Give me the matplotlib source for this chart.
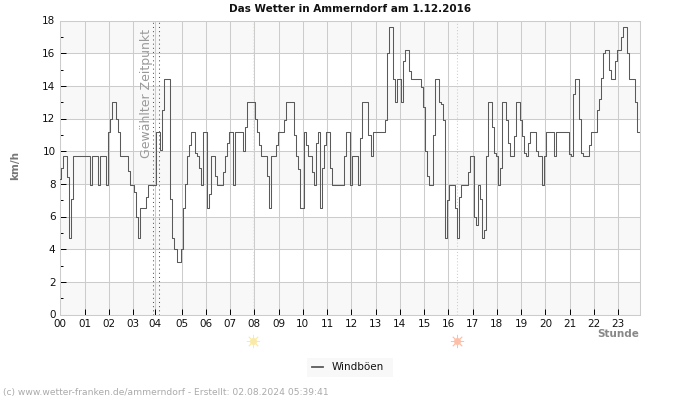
import numpy as np
import matplotlib
matplotlib.use("Agg")
import matplotlib.pyplot as plt
from matplotlib.patches import Rectangle

# gust values per hour, 5 minute samples (km/h)
h00 = [8.3, 9.0, 9.7, 9.7, 8.4, 4.7, 7.1, 9.7, 9.7, 9.7, 9.7, 9.7]
h01 = [9.7, 9.7, 9.7, 7.9, 9.7, 9.7, 9.7, 7.9, 9.7, 9.7, 9.7, 7.9]
h02 = [11.2, 12.0, 13.0, 13.0, 12.0, 11.2, 9.7, 9.7, 9.7, 9.7, 8.8, 7.9]
h03 = [7.9, 7.5, 6.0, 4.7, 6.5, 6.5, 6.5, 7.2, 7.9, 7.9, 7.9, 7.9]
h04 = [11.2, 11.2, 10.1, 12.5, 14.4, 14.4, 14.4, 7.1, 4.7, 4.0, 3.2, 3.2]
h05 = [4.0, 6.5, 8.0, 9.7, 10.4, 11.2, 11.2, 9.9, 9.7, 9.0, 7.9, 11.2]
h06 = [11.2, 6.5, 7.4, 9.7, 9.7, 8.5, 7.9, 7.9, 7.9, 8.7, 9.7, 10.5]
h07 = [11.2, 11.2, 7.9, 11.2, 11.2, 11.2, 11.2, 10.0, 11.5, 13.0, 13.0, 13.0]
h08 = [13.0, 12.0, 11.2, 10.4, 9.7, 9.7, 9.7, 8.5, 6.5, 9.7, 9.7, 10.4]
h09 = [11.2, 11.2, 11.2, 11.9, 13.0, 13.0, 13.0, 13.0, 11.0, 9.7, 8.9, 6.5]
h10 = [6.5, 11.2, 10.4, 9.7, 9.7, 8.7, 7.9, 10.5, 11.2, 6.5, 9.0, 10.4]
h11 = [11.2, 11.2, 9.0, 7.9, 7.9, 7.9, 7.9, 7.9, 7.9, 9.7, 11.2, 11.2]
h12 = [7.9, 9.7, 9.7, 9.7, 7.9, 10.8, 13.0, 13.0, 13.0, 11.0, 9.7, 11.2]
h13 = [11.2, 11.2, 11.2, 11.2, 11.2, 11.9, 16.0, 17.6, 17.6, 14.4, 13.0, 14.4]
h14 = [14.4, 13.0, 15.5, 16.2, 16.2, 14.9, 14.4, 14.4, 14.4, 14.4, 14.4, 13.9]
h15 = [12.7, 10.0, 8.5, 7.9, 7.9, 11.0, 14.4, 14.4, 13.0, 12.9, 11.9, 4.7]
h16 = [7.0, 7.9, 7.9, 7.9, 6.5, 4.7, 7.2, 7.9, 7.9, 7.9, 8.7, 9.7]
h17 = [9.7, 6.0, 5.5, 7.9, 7.1, 4.7, 5.2, 9.7, 13.0, 13.0, 11.5, 9.9]
h18 = [9.7, 7.9, 9.0, 13.0, 13.0, 11.9, 10.5, 9.7, 9.7, 10.9, 13.0, 13.0]
h19 = [11.9, 10.9, 9.9, 9.7, 10.5, 11.2, 11.2, 11.2, 10.0, 9.7, 9.7, 7.9]
h20 = [9.7, 11.2, 11.2, 11.2, 11.2, 9.7, 11.2, 11.2, 11.2, 11.2, 11.2, 11.2]
h21 = [9.8, 9.7, 13.5, 14.4, 14.4, 12.0, 9.9, 9.7, 9.7, 9.7, 10.4, 11.2]
h22 = [11.2, 11.2, 12.5, 13.2, 14.5, 16.0, 16.2, 16.2, 15.0, 14.4, 14.4, 15.5]
h23 = [16.2, 16.2, 17.0, 17.6, 17.6, 16.0, 14.4, 14.4, 14.4, 13.0, 11.2, 11.2]

hours = [h00, h01, h02, h03, h04, h05, h06, h07, h08, h09, h10, h11,
         h12, h13, h14, h15, h16, h17, h18, h19, h20, h21, h22, h23]
hour_labels = ["%02d" % h for h in range(24)]
hour_ticks = [float(h) for h in range(24)]
hour_ticks[4] = 3.92  # the 04 tick sits a bit early in the original
selected_times = [3.84, 4.08]
sunrise = 7.93
sunset = 16.36

gusts = np.concatenate(hours)
t = np.arange(len(gusts)) / 12.0

GRID = "#cccccc"
BAND = "#f8f8f8"
LINE = "#5a5a5a"

fig = plt.figure(figsize=(7, 4), dpi=100)
ax = fig.add_axes([60.3 / 700, 1 - 314.5 / 400, 580 / 700, 294 / 400])
ax.set_xlim(0, t[-1])
ax.set_ylim(0, 18)

# alternating bands
for y0 in range(0, 18, 4):
    ax.axhspan(y0, y0 + 2, color=BAND, lw=0, zorder=0)
ax.axhspan(16, 18, color=BAND, lw=0, zorder=0)

ax.set_axisbelow(True)
ax.grid(True, which="major", color=GRID, lw=0.75)
for side in ax.spines.values():
    side.set_color(GRID)
    side.set_linewidth(0.75)

ax.set_xticks(hour_ticks)
ax.set_xticklabels(hour_labels)
ax.set_yticks(range(0, 19, 2))
ax.set_yticks(range(1, 18, 2), minor=True)
ax.tick_params(axis="both", which="major", direction="in", length=4, width=0.7,
               labelsize=7.5, pad=3.5, color="black", labelcolor="#111111")
ax.tick_params(axis="y", which="minor", direction="in", length=2.5, width=0.7)

# markers for the selected time and the sun
for st in selected_times:
    ax.axvline(st, color="#555555", lw=0.75, ls=(0, (1, 3)), zorder=2)
ax.axvline(sunrise, color="#f3eeb0", lw=0.75, ls=(0, (1, 2)), zorder=2)
ax.axvline(sunset, color="#f2c88a", lw=0.75, ls=(0, (1, 2)), zorder=2)
ax.text(3.55, 9.6, "Gewählter Zeitpunkt", rotation=90, color="#999999",
        fontsize=9, ha="center", va="bottom")

ax.plot(t, gusts, color=LINE, lw=0.75, drawstyle="steps-mid", zorder=3)

# sun symbols under the axis
for sx, col in [(sunrise, "#fbe9a6"), (sunset, "#fdbfa8")]:
    ax.plot([sx], [-1.65], marker="o", ms=5, color=col, mew=0, clip_on=False)
    ax.plot([sx], [-1.65], marker=(8, 2, 0), ms=9.5, color=col, mew=0.6, clip_on=False)

fig.text(350 / 700, 1 - 8.5 / 400, "Das Wetter in Ammerndorf am 1.12.2016",
         fontsize=7.5, fontweight="bold", ha="center", va="center", color="#111111")
fig.text(15.5 / 700, 1 - 166 / 400, "km/h", rotation=90, fontsize=7.5, fontweight="bold",
         color="#777777", ha="center", va="center")
fig.text(639 / 700, 1 - 334 / 400, "Stunde", fontsize=7.5, fontweight="bold",
         color="#888888", ha="right", va="center")
fig.text(3 / 700, 1 - 393 / 400, "(c) www.wetter-franken.de/ammerndorf - Erstellt: 02.08.2024 05:39:41",
         fontsize=6.6, color="#aaaaaa", ha="left", va="center")

# legend drawn by hand to place it exactly
fig.add_artist(Rectangle((307 / 700, 1 - 376.5 / 400), 86 / 700, 19 / 400, color=BAND, lw=0,
                         transform=fig.transFigure))
fig.add_artist(plt.Line2D([312 / 700, 323 / 700], [1 - 367 / 400] * 2, color=LINE, lw=1.3))
fig.text(332 / 700, 1 - 366.5 / 400, "Windböen", fontsize=7.5, color="#111111", ha="left", va="center")

fig.savefig("out.png", dpi=100)
